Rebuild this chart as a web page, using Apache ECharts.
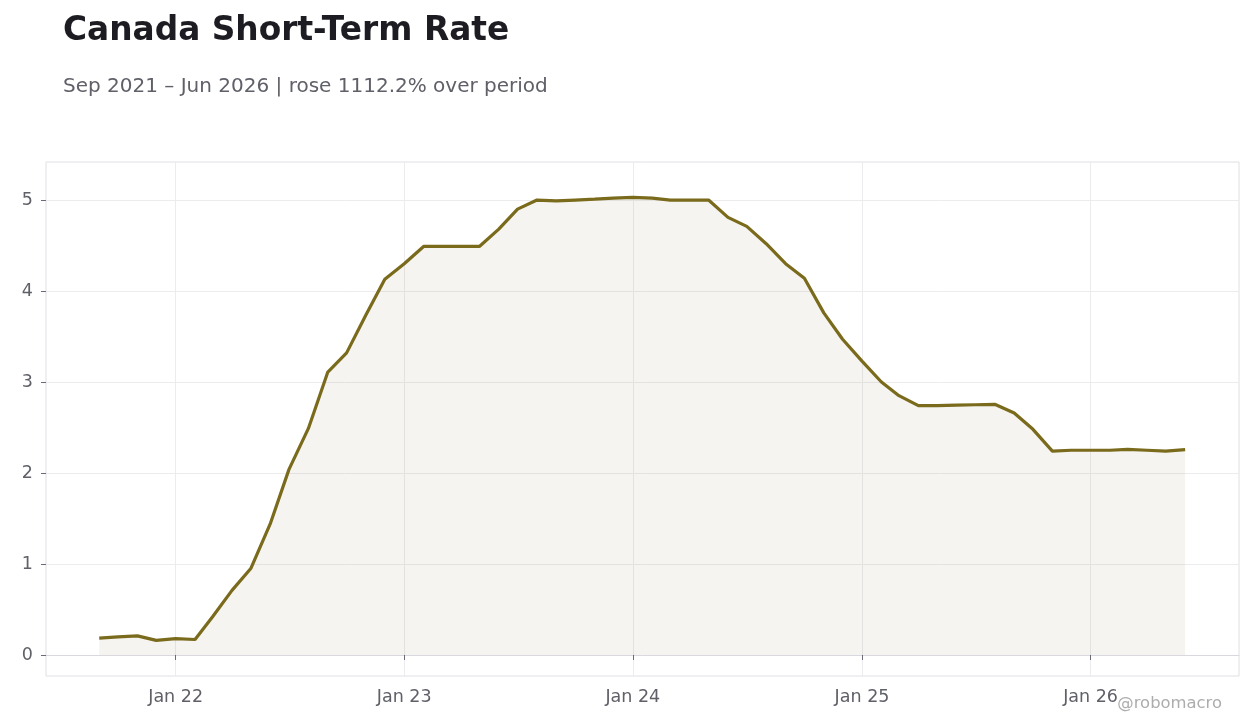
<!DOCTYPE html>
<html><head><meta charset="utf-8">
<script src="https://cdn.jsdelivr.net/npm/echarts@6/dist/echarts.min.js"></script>
<style>html,body{margin:0;padding:0;background:#fff}#c{width:1260px;height:728px}</style>
</head><body><div id="c"></div>
<script>
const months = ["2021-09","2021-10","2021-11","2021-12","2022-01","2022-02","2022-03","2022-04","2022-05","2022-06","2022-07","2022-08","2022-09","2022-10","2022-11","2022-12","2023-01","2023-02","2023-03","2023-04","2023-05","2023-06","2023-07","2023-08","2023-09","2023-10","2023-11","2023-12","2024-01","2024-02","2024-03","2024-04","2024-05","2024-06","2024-07","2024-08","2024-09","2024-10","2024-11","2024-12","2025-01","2025-02","2025-03","2025-04","2025-05","2025-06","2025-07","2025-08","2025-09","2025-10","2025-11","2025-12","2026-01","2026-02","2026-03","2026-04","2026-05","2026-06"];
const rates = [0.186,0.20,0.21,0.16,0.18,0.17,0.42,0.71,0.95,1.44,2.04,2.49,3.11,3.32,3.74,4.13,4.30,4.49,4.49,4.49,4.49,4.68,4.90,5.00,4.99,5.00,5.01,5.02,5.03,5.02,5.00,5.00,5.00,4.81,4.71,4.52,4.30,4.14,3.76,3.47,3.23,3.00,2.85,2.74,2.74,2.745,2.75,2.755,2.66,2.48,2.24,2.25,2.25,2.25,2.26,2.25,2.24,2.257];
const xTickYears = [2022,2023,2024,2025,2026];
const yTicks = [0,1,2,3,4,5];
const titleText = "Canada Short-Term Rate";
const subtitleText = "Sep 2021 \u2013 Jun 2026 | rose 1112.2% over period";

const ts = s => { const [y,m] = s.split('-').map(Number); return Date.UTC(y, m-1, 1); };
const data = months.map((m,i) => [ts(m), rates[i]]);
const xTicks = xTickYears.map(y => Date.UTC(y,0,1));
const FONT = "DejaVu Sans";
const chart = echarts.init(document.getElementById('c'));
chart.setOption({
  animation:false,
  textStyle:{fontFamily:FONT},
  title:[
    {text:titleText,left:58,top:10,textStyle:{fontFamily:FONT,fontSize:32.8,fontWeight:'bold',color:'#1c1c22'}},
    {text:subtitleText,left:58,top:72,textStyle:{fontFamily:FONT,fontSize:20,fontWeight:'normal',color:'#5f6068'}}
  ],
  graphic:[{type:'text',right:38,top:696,style:{text:'@robomacro',fill:'#adadad',font:'16.4px "DejaVu Sans"'}}],
  grid:{left:46,right:21,top:162,bottom:52,show:true,borderColor:'#e0e0e4',borderWidth:1,containLabel:false},
  xAxis:{type:'value',min:Date.UTC(2021,5,8),max:Date.UTC(2026,7,26),
    axisLine:{lineStyle:{color:'#d8d8de'}},
    axisTick:{show:true,length:5,lineStyle:{color:'#6a6a78'},customValues:xTicks},
    axisLabel:{customValues:xTicks,color:'#5f6068',fontSize:17.5,margin:12,fontFamily:FONT,
      formatter:v=>{const d=new Date(v);return 'Jan '+String(d.getUTCFullYear()).slice(2);}},
    splitLine:{show:true,lineStyle:{color:'#ececef'}}},
  yAxis:{type:'value',min:-0.231,max:5.418,
    axisLine:{show:false},
    axisTick:{show:true,length:5,lineStyle:{color:'#6a6a78'},customValues:yTicks},
    axisLabel:{customValues:yTicks,color:'#5f6068',fontSize:17.5,margin:13,fontFamily:FONT},
    splitLine:{show:true,lineStyle:{color:'#ececef'}}},
  series:[{type:'line',data:data,showSymbol:false,symbol:'none',
    lineStyle:{color:'#7a6a1c',width:3.2},
    areaStyle:{color:'rgba(128,117,60,0.11)',origin:0}}]
});
</script></body></html>
